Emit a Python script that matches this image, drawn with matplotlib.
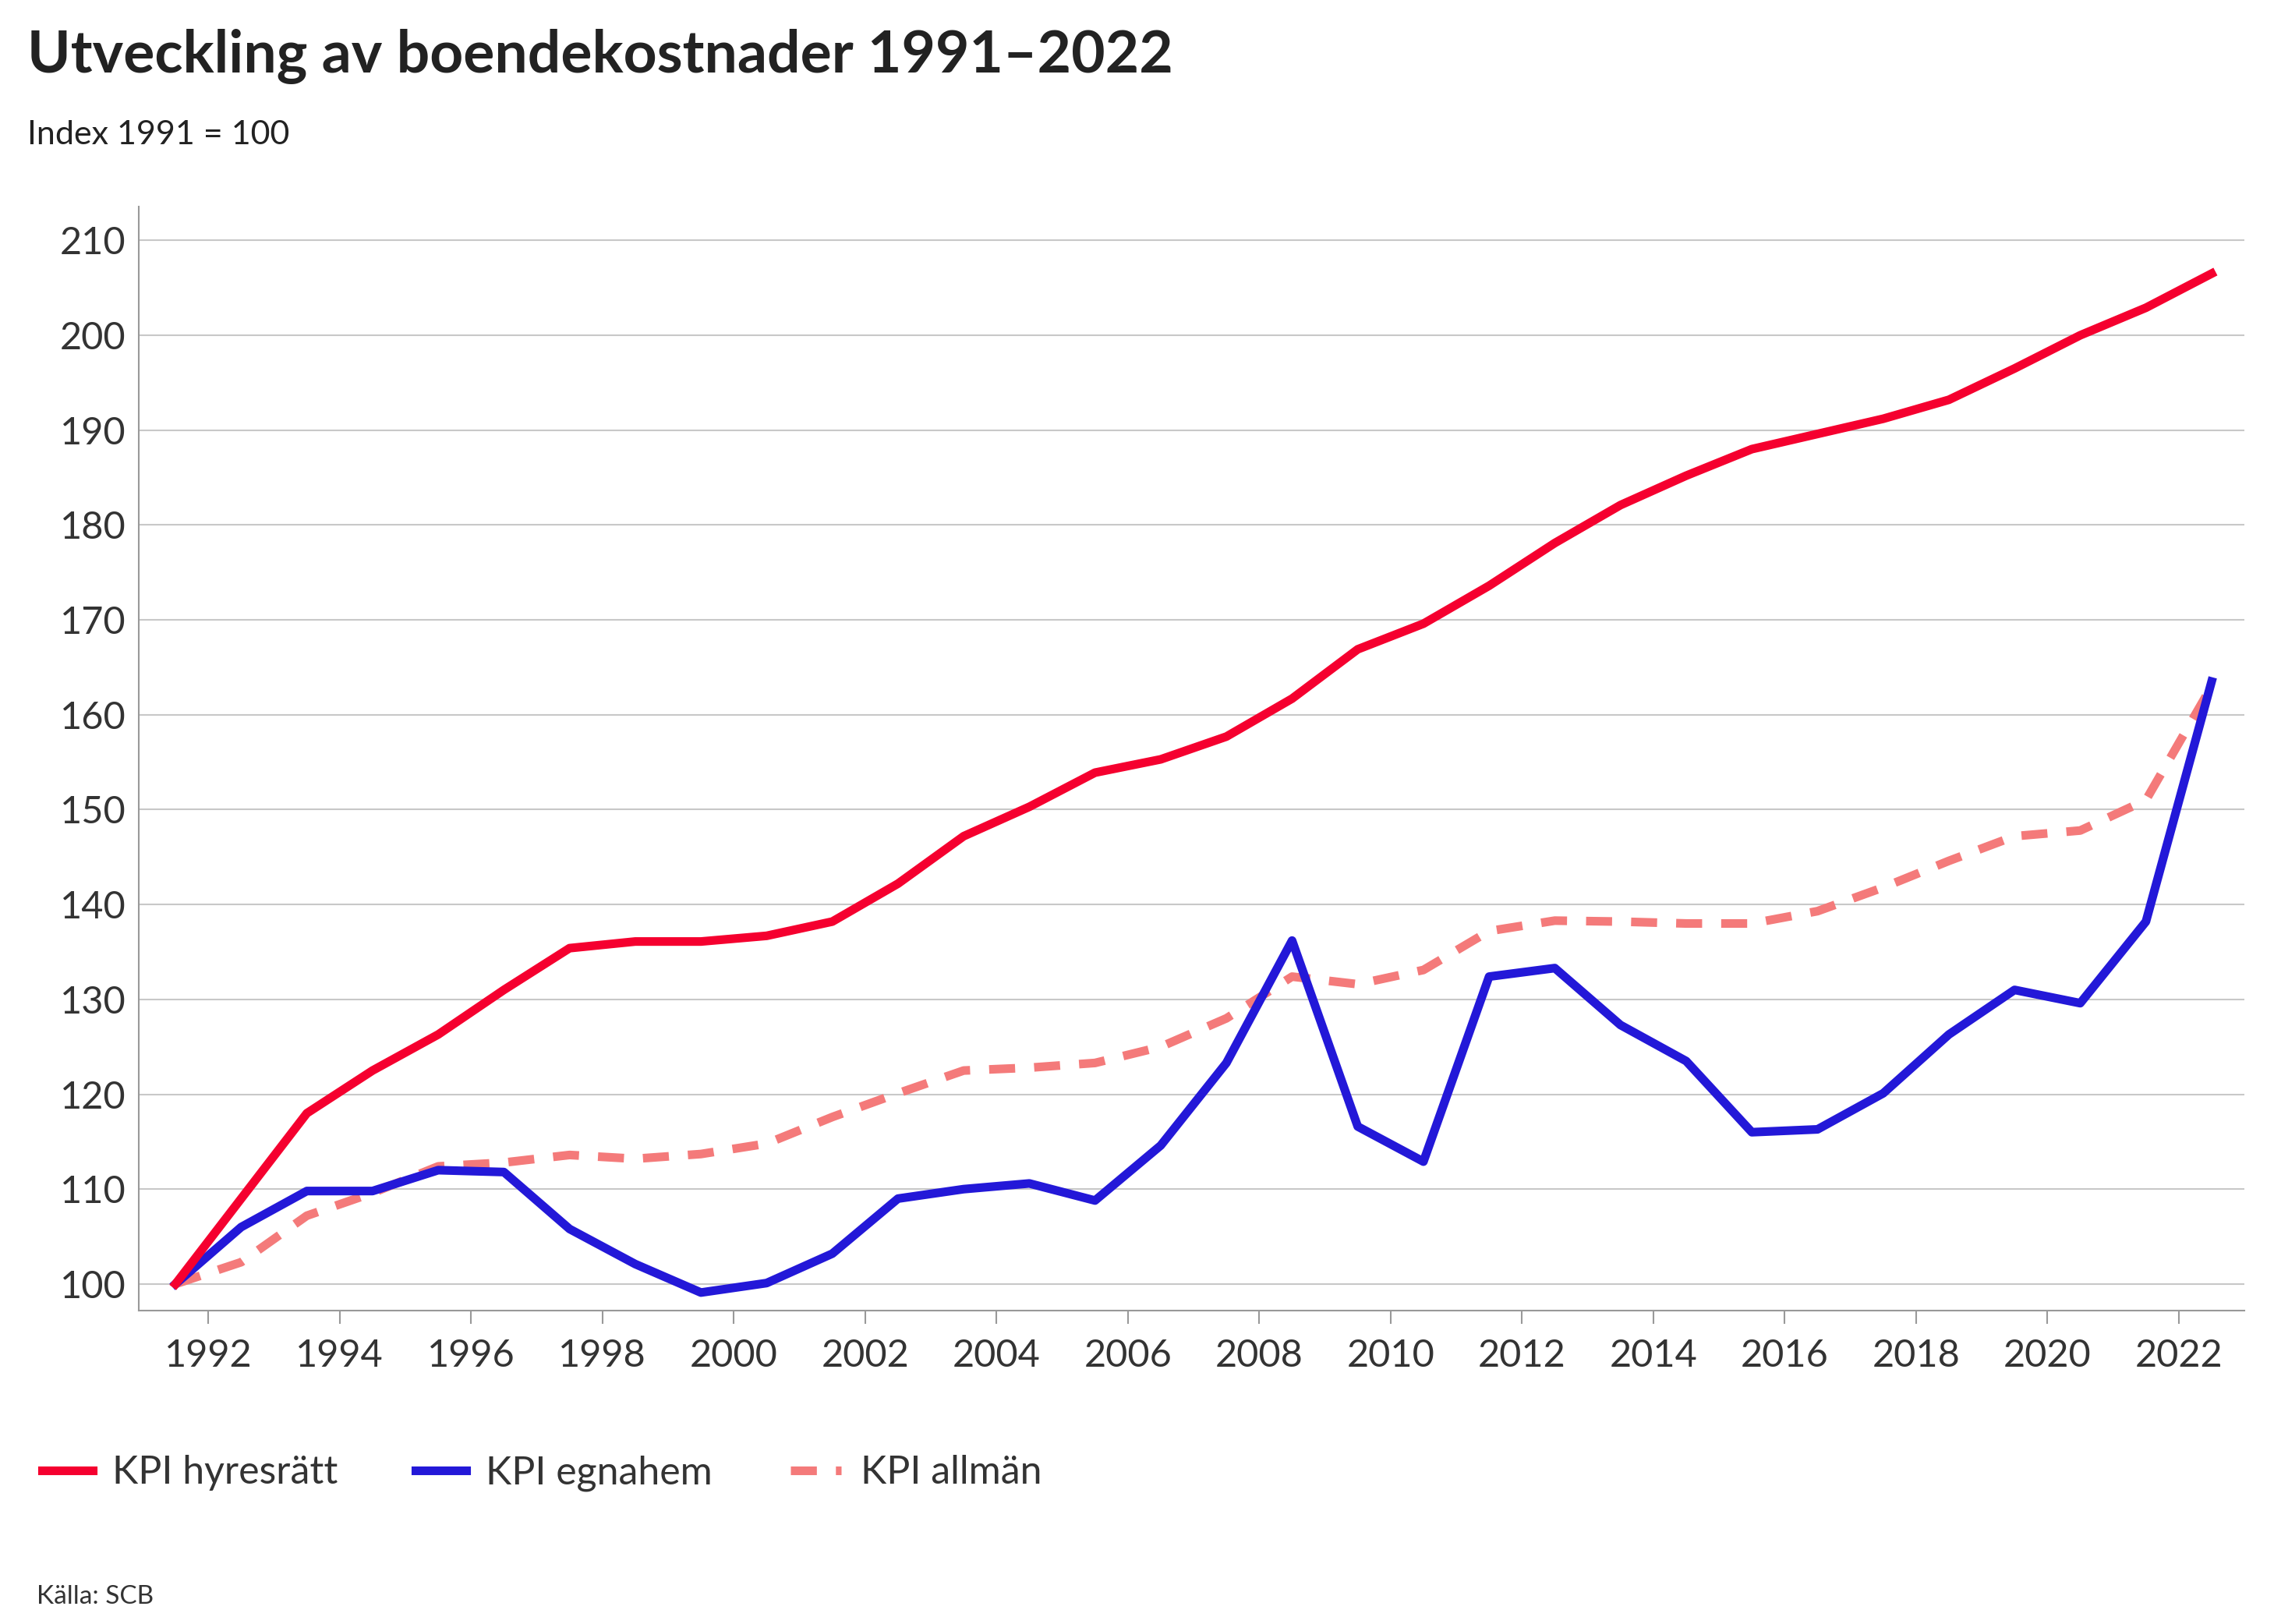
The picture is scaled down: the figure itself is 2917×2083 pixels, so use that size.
import matplotlib
matplotlib.use("Agg")
import matplotlib.pyplot as plt
from matplotlib.lines import Line2D

years = list(range(1991, 2023))
hyresratt = [100, 109, 118, 122.5, 126.3, 131, 135.4, 136.1, 136.1, 136.7, 138.2, 142.2, 147.2, 150.3, 153.9, 155.3,
             157.7, 161.7, 166.9, 169.6, 173.6, 178.1, 182.1, 185.2, 188.0, 189.6, 191.2, 193.2, 196.5, 200.0, 202.9, 206.5]
egnahem = [100, 106, 109.8, 109.8, 112, 111.8, 105.8, 102.1, 99.1, 100.1, 103.2, 109, 110, 110.6, 108.8, 114.6,
           123.3, 136.2, 116.6, 112.9, 132.4, 133.3, 127.3, 123.5, 116, 116.3, 120.1, 126.3, 131, 129.6, 138.2, 163.5]
allman = [100, 102.3, 107.2, 109.6, 112.4, 112.8, 113.6, 113.2, 113.7, 114.8, 117.6, 120.1, 122.5, 122.8, 123.3, 125,
          128, 132.4, 131.6, 133.1, 137.2, 138.3, 138.2, 138, 138, 139.3, 141.8, 144.6, 147.2, 147.8, 151, 163]
labels = ["KPI hyresrätt", "KPI egnahem", "KPI allmän"]
yticks = list(range(100, 211, 10))
xticks = list(range(1992, 2023, 2))

plt.rcParams['font.family'] = ['Lato', 'DejaVu Sans']
fig = plt.figure(figsize=(29.17, 20.83), dpi=100)
ax = fig.add_axes([0.061, 0.193, 0.926, 0.68])
xs = [y + 0.5 for y in years]
red, blue, pink = "#f5002f", "#2318d8", "#f47a7a"
ax.plot(xs, allman, color=pink, lw=8, dashes=(3, 2.2))
ax.plot(xs, egnahem, color=blue, lw=8)
ax.plot(xs, hyresratt, color=red, lw=8)
ax.set_xlim(1990.94, 2023.0)
ax.set_ylim(97.2, 213.6)
ax.set_yticks(yticks)
ax.set_xticks(xticks)
ax.tick_params(axis='both', labelsize=35, colors="#333333", labelcolor="#333333")
ax.tick_params(axis='y', length=0, pad=12)
ax.tick_params(axis='x', length=12, width=1.5, color="#999999", pad=14)
ax.grid(axis='y', color="#c8c8c8", lw=1.5)
ax.set_axisbelow(True)
for s in ['top', 'right']:
    ax.spines[s].set_visible(False)
for s in ['left', 'bottom']:
    ax.spines[s].set_color("#999999")
    ax.spines[s].set_linewidth(1.5)

fig.text(0.012, 0.965, "Utveckling av boendekostnader 1991–2022", fontsize=54, fontweight='bold',
         color="#222222", va='center')
fig.text(0.012, 0.917, "Index 1991 = 100", fontsize=31, color="#222222", va='center')
handles = [Line2D([], [], color=red, lw=8), Line2D([], [], color=blue, lw=8),
           Line2D([], [], color=pink, lw=8, dashes=(3, 2.2))]
fig.legend(handles, labels, loc='center left', bbox_to_anchor=(0.003, 0.093), ncol=3, frameon=False,
           fontsize=36, handlelength=1.3, handletextpad=0.5, columnspacing=2.0, labelcolor="#333333")
fig.text(0.016, 0.017, "Källa: SCB", fontsize=24, color="#333333", va='center')
fig.savefig("out.png", dpi=100)
